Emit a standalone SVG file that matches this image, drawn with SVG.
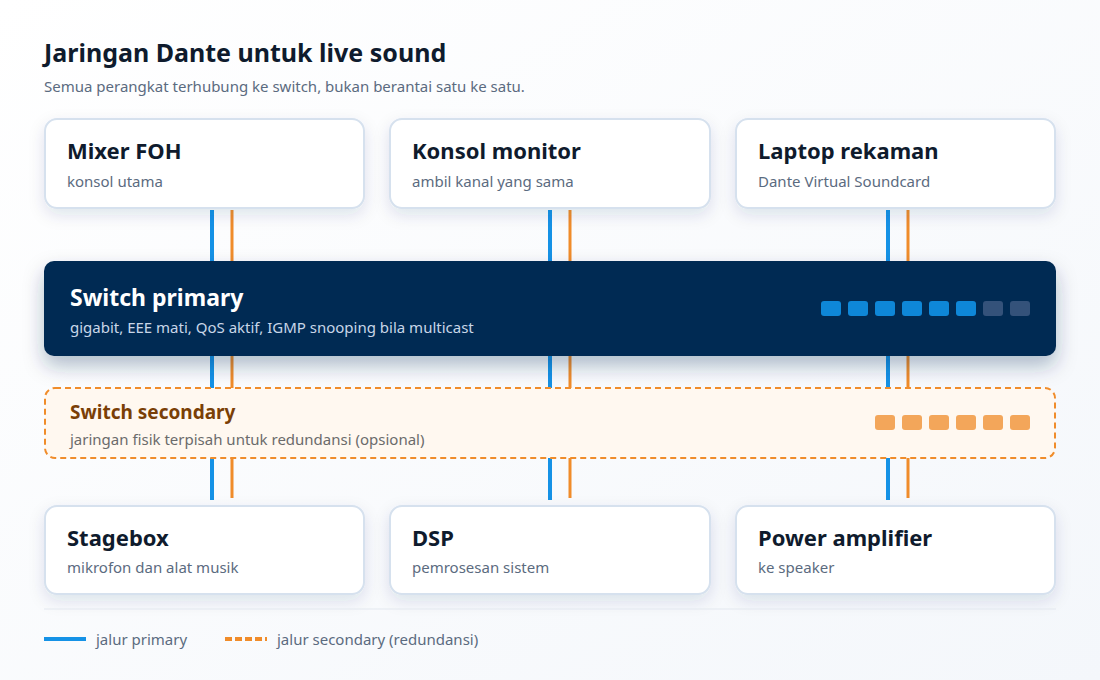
<svg xmlns="http://www.w3.org/2000/svg" width="1100" height="680" viewBox="0 0 1100 680">
<defs>
<linearGradient id="bg" x1="0" y1="0" x2="1" y2="1"><stop offset="0" stop-color="#ffffff"/><stop offset="1" stop-color="#f4f7fb"/></linearGradient>
<filter id="sh" x="-10%" y="-30%" width="120%" height="170%"><feDropShadow dx="0" dy="6" stdDeviation="8" flood-color="#1e3a5f" flood-opacity="0.12"/></filter>
<filter id="sh2" x="-10%" y="-40%" width="120%" height="190%"><feDropShadow dx="0" dy="10" stdDeviation="10" flood-color="#062a52" flood-opacity="0.3"/></filter>
</defs>
<style>
text{font-family:"Noto Sans","Open Sans",sans-serif}
.card{fill:#fff;stroke:#d6e1ee;stroke-width:2}
.t{font-size:22px;font-weight:700;fill:#0f1b2d}
.s{font-size:15px;fill:#5b6b80}
.p{stroke:#1592e6;stroke-width:4}
.o{stroke:#f08c2a;stroke-width:3}
.pp{fill:#0e87d8}
.pd{fill:#34527a}
.op{fill:#f3a65a}
</style>
<rect width="1100" height="680" fill="url(#bg)"/>
<text x="44" y="62" style="font-size:25px;font-weight:700;fill:#0f1b2d">Jaringan Dante untuk live sound</text>
<text x="44" y="92" style="font-size:15px;fill:#5b6b80">Semua perangkat terhubung ke switch, bukan berantai satu ke satu.</text>
<g id="connectors">
<line class="p" x1="212" y1="210" x2="212" y2="500"/><line class="o" x1="232" y1="210" x2="232" y2="498"/>
<line class="p" x1="550" y1="210" x2="550" y2="500"/><line class="o" x1="570" y1="210" x2="570" y2="498"/>
<line class="p" x1="888" y1="210" x2="888" y2="500"/><line class="o" x1="908" y1="210" x2="908" y2="498"/>
</g>
<g id="mixer"><rect class="card" x="45" y="119" width="319" height="89" rx="12" filter="url(#sh)"/><text class="t" x="67" y="159">Mixer FOH</text><text class="s" x="67" y="187">konsol utama</text></g>
<g id="monitor"><rect class="card" x="390" y="119" width="320" height="89" rx="12" filter="url(#sh)"/><text class="t" x="412" y="159">Konsol monitor</text><text class="s" x="412" y="187">ambil kanal yang sama</text></g>
<g id="laptop"><rect class="card" x="736" y="119" width="319" height="89" rx="12" filter="url(#sh)"/><text class="t" x="758" y="159">Laptop rekaman</text><text class="s" x="758" y="187">Dante Virtual Soundcard</text></g>
<g id="switch-primary"><rect x="44" y="261" width="1012" height="95" rx="10" fill="#062a52" filter="url(#sh2)"/>
<text x="70" y="306" style="font-size:23px;font-weight:700;fill:#fff">Switch primary</text>
<text x="70" y="333" style="font-size:15px;fill:#c8d6e8">gigabit, EEE mati, QoS aktif, IGMP snooping bila multicast</text>
<rect class="pp" x="821" y="301" width="20" height="15" rx="3"/><rect class="pp" x="848" y="301" width="20" height="15" rx="3"/><rect class="pp" x="875" y="301" width="20" height="15" rx="3"/><rect class="pp" x="902" y="301" width="20" height="15" rx="3"/><rect class="pp" x="929" y="301" width="20" height="15" rx="3"/><rect class="pp" x="956" y="301" width="20" height="15" rx="3"/><rect class="pd" x="983" y="301" width="20" height="15" rx="3"/><rect class="pd" x="1010" y="301" width="20" height="15" rx="3"/>
</g>
<g id="switch-secondary"><rect x="45" y="388" width="1010" height="70" rx="10" fill="#fff8f0" stroke="#f08c2a" stroke-width="2" stroke-dasharray="6 4"/>
<text x="70" y="419" style="font-size:19px;font-weight:700;fill:#7a3f06">Switch secondary</text>
<text x="70" y="445" style="font-size:15px;fill:#6b6b6b">jaringan fisik terpisah untuk redundansi (opsional)</text>
<rect class="op" x="875" y="415" width="20" height="15" rx="3"/><rect class="op" x="902" y="415" width="20" height="15" rx="3"/><rect class="op" x="929" y="415" width="20" height="15" rx="3"/><rect class="op" x="956" y="415" width="20" height="15" rx="3"/><rect class="op" x="983" y="415" width="20" height="15" rx="3"/><rect class="op" x="1010" y="415" width="20" height="15" rx="3"/>
</g>
<g id="stagebox"><rect class="card" x="45" y="506" width="319" height="88" rx="12" filter="url(#sh)"/><text class="t" x="67" y="546">Stagebox</text><text class="s" x="67" y="573">mikrofon dan alat musik</text></g>
<g id="dsp"><rect class="card" x="390" y="506" width="320" height="88" rx="12" filter="url(#sh)"/><text class="t" x="412" y="546">DSP</text><text class="s" x="412" y="573">pemrosesan sistem</text></g>
<g id="amp"><rect class="card" x="736" y="506" width="319" height="88" rx="12" filter="url(#sh)"/><text class="t" x="758" y="546">Power amplifier</text><text class="s" x="758" y="573">ke speaker</text></g>
<line x1="44" y1="609" x2="1056" y2="609" stroke="#e3e8ef" stroke-width="1"/>
<g id="legend">
<line x1="44" y1="639" x2="86" y2="639" stroke="#1592e6" stroke-width="4"/>
<text class="s" x="96" y="645">jalur primary</text>
<line x1="225" y1="639" x2="267" y2="639" stroke="#f08c2a" stroke-width="4" stroke-dasharray="7 3"/>
<text class="s" x="277" y="645">jalur secondary (redundansi)</text>
</g>
</svg>
